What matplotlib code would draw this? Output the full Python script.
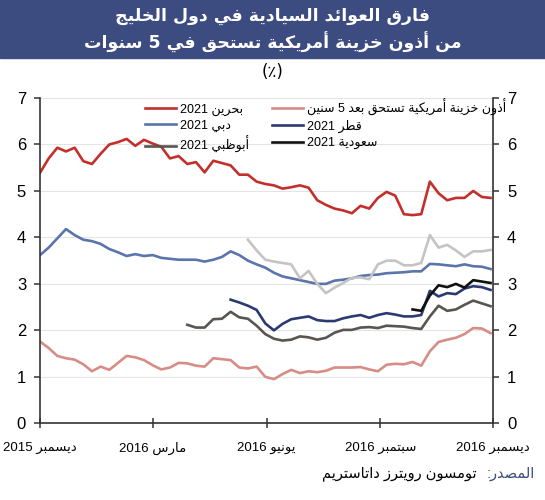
import numpy as np
import pandas as pd
import matplotlib
matplotlib.use("Agg")
from matplotlib import pyplot as plt
from matplotlib.patches import Rectangle

plt.rcParams['font.family'] = ['Liberation Sans', 'DejaVu Sans']

#------------------------------------------------------------------------------
# minimal arabic shaping (matplotlib has no text shaping / bidi)
#------------------------------------------------------------------------------
_letters = [(0x621, 1), (0x622, 2), (0x623, 2), (0x624, 2), (0x625, 2), (0x626, 4),
            (0x627, 2), (0x628, 4), (0x629, 2), (0x62A, 4), (0x62B, 4), (0x62C, 4),
            (0x62D, 4), (0x62E, 4), (0x62F, 2), (0x630, 2), (0x631, 2), (0x632, 2),
            (0x633, 4), (0x634, 4), (0x635, 4), (0x636, 4), (0x637, 4), (0x638, 4),
            (0x639, 4), (0x63A, 4), (0x641, 4), (0x642, 4), (0x643, 4), (0x644, 4),
            (0x645, 4), (0x646, 4), (0x647, 4), (0x648, 2), (0x649, 2), (0x64A, 4)]
FORMS = {}
_code = 0xFE80
for c, n in _letters:
    FORMS[chr(c)] = [_code + k for k in range(n)]
    _code += n


def shape_word(w):
    out = []
    for i, c in enumerate(w):
        if c not in FORMS:
            out.append(c)
            continue
        f = FORMS[c]
        prev = w[i-1] if i > 0 else ''
        nxt = w[i+1] if i+1 < len(w) else ''
        jp = prev in FORMS and len(FORMS[prev]) == 4
        jn = len(f) == 4 and nxt in FORMS and len(FORMS[nxt]) > 1
        if jp and jn:
            out.append(chr(f[3]))
        elif jn:
            out.append(chr(f[2]))
        elif jp and len(f) > 1:
            out.append(chr(f[1]))
        else:
            out.append(chr(f[0]))
    return ''.join(out)


def ar(text):
    words = []
    for w in text.split(' '):
        if any(ch in FORMS for ch in w):
            words.append(shape_word(w)[::-1])
        else:
            words.append(w)
    return ' '.join(words[::-1])

#------------------------------------------------------------------------------
# data (weekly)
#------------------------------------------------------------------------------
dates = pd.date_range('2015-12-01', periods=53, freq='7D')

bahrain = [5.39, 5.70, 5.93, 5.85, 5.93, 5.64, 5.58, 5.80, 6.00, 6.05, 6.12, 5.97, 6.10, 6.02,
           5.95, 5.70, 5.75, 5.58, 5.62, 5.40, 5.65, 5.60, 5.55, 5.35, 5.35, 5.20, 5.15, 5.12,
           5.05, 5.08, 5.12, 5.07, 4.80, 4.70, 4.62, 4.58, 4.52, 4.68, 4.62, 4.85, 4.98, 4.90,
           4.50, 4.48, 4.50, 5.20, 4.95, 4.80, 4.85, 4.85, 5.00, 4.87, 4.85]

dubai = [3.62, 3.78, 3.98, 4.18, 4.05, 3.95, 3.92, 3.86, 3.75, 3.68, 3.60, 3.64, 3.60, 3.62,
         3.56, 3.54, 3.52, 3.52, 3.52, 3.48, 3.52, 3.58, 3.70, 3.62, 3.50, 3.42, 3.35, 3.24,
         3.16, 3.12, 3.08, 3.04, 3.00, 3.00, 3.07, 3.09, 3.12, 3.17, 3.19, 3.20, 3.23, 3.24,
         3.25, 3.27, 3.27, 3.43, 3.42, 3.40, 3.38, 3.42, 3.38, 3.37, 3.32]

ust = [1.76, 1.62, 1.45, 1.40, 1.37, 1.27, 1.12, 1.22, 1.15, 1.30, 1.45, 1.42, 1.36, 1.25,
       1.16, 1.20, 1.30, 1.29, 1.24, 1.22, 1.40, 1.38, 1.36, 1.20, 1.18, 1.22, 1.00, 0.95,
       1.06, 1.15, 1.08, 1.12, 1.10, 1.13, 1.20, 1.20, 1.20, 1.21, 1.16, 1.12, 1.26, 1.28,
       1.27, 1.32, 1.24, 1.55, 1.75, 1.80, 1.84, 1.92, 2.05, 2.04, 1.94]

other_start = 24
other = [3.95, 3.72, 3.52, 3.48, 3.45, 3.42, 3.12, 3.28, 3.00, 2.80, 2.92, 3.02, 3.13, 3.14,
         3.10, 3.42, 3.50, 3.50, 3.40, 3.40, 3.45, 4.05, 3.78, 3.84, 3.72, 3.58, 3.70, 3.70, 3.73]

qatar_start = 22
qatar = [2.66, 2.60, 2.53, 2.44, 2.15, 2.00, 2.14, 2.24, 2.27, 2.30, 2.22, 2.20, 2.20, 2.26,
         2.30, 2.33, 2.27, 2.33, 2.37, 2.34, 2.30, 2.30, 2.33, 2.85, 2.73, 2.80, 2.78, 2.90,
         2.95, 2.93, 2.87]

abudhabi_start = 17
abudhabi = [2.12, 2.06, 2.06, 2.24, 2.25, 2.40, 2.28, 2.25, 2.10, 1.92, 1.82, 1.78, 1.80,
            1.87, 1.85, 1.80, 1.84, 1.95, 2.01, 2.01, 2.06, 2.07, 2.05, 2.10, 2.09, 2.08,
            2.05, 2.03, 2.30, 2.53, 2.42, 2.45, 2.55, 2.64, 2.58, 2.52]

saudi_start = 43
saudi = [2.45, 2.42, 2.75, 2.97, 2.93, 3.00, 2.92, 3.08, 3.05, 3.02]

labels = ['بحرين 2021', 'دبي 2021', 'أبوظبي 2021',
          'أذون خزينة أمريكية تستحق بعد 5 سنين', 'قطر 2021', 'سعودية 2021']

tick_dates = pd.to_datetime(['2015-12-01', '2016-03-01', '2016-06-01', '2016-09-01', '2016-12-01'])
tick_labels = ['ديسمبر 2015', 'مارس 2016', 'يونيو 2016', 'سبتمبر 2016', 'ديسمبر 2016']

title1 = 'فارق العوائد السيادية في دول الخليج'
title2 = 'من أذون خزينة أمريكية تستحق في 5 سنوات'
source1 = 'المصدر:'
source2 = 'تومسون رويترز داتاستريم'

#------------------------------------------------------------------------------
# plot
#------------------------------------------------------------------------------
navy = '#3c4b80'
lw = 1.9

fig = plt.figure(figsize=(5.45, 5.0), dpi=100)

fig.patches.append(Rectangle((0, 0.885), 1, 0.115, transform=fig.transFigure,
                             color=navy, zorder=0))
fig.text(0.5, 0.9686, ar(title1), ha='center', va='center', color='white',
         fontsize=12.5, fontweight='bold', family=['DejaVu Sans'])
fig.text(0.5, 0.916, ar(title2), ha='center', va='center', color='white',
         fontsize=12.5, fontweight='bold', family=['DejaVu Sans'])
fig.text(0.5, 0.856, '(٪)', ha='center', va='center', fontsize=12, family=['DejaVu Sans'])

ax = fig.add_axes([0.0734, 0.1534, 0.8312, 0.6506])

l_bh, = ax.plot(dates, bahrain, color='#c3302c', lw=lw, label=ar(labels[0]))
l_db, = ax.plot(dates, dubai, color='#5b74ac', lw=lw, label=ar(labels[1]))
ax.plot(dates[other_start:other_start+len(other)], other, color='#c4c4c4', lw=lw)
l_ad, = ax.plot(dates[abudhabi_start:abudhabi_start+len(abudhabi)], abudhabi,
                color='#595552', lw=lw, label=ar(labels[2]))
l_qt, = ax.plot(dates[qatar_start:qatar_start+len(qatar)], qatar, color='#2b3a70',
                lw=lw, label=ar(labels[4]))
l_sa, = ax.plot(dates[saudi_start:saudi_start+len(saudi)], saudi, color='#111111',
                lw=lw, label=ar(labels[5]))
l_us, = ax.plot(dates, ust, color='#d88c86', lw=lw, label=ar(labels[3]))

ax.set_xlim(tick_dates[0], tick_dates[-1])
ax.set_ylim(0, 7)
ax.set_yticks(range(8))
ax.set_xticks(tick_dates)
ax.set_xticklabels([ar(t) for t in tick_labels])

ax.grid(axis='y', color='#e4e4e4', linewidth=0.8)
ax.set_axisbelow(True)
ax.spines['top'].set_visible(False)
for s in ['left', 'right', 'bottom']:
    ax.spines[s].set_color('#333333')
    ax.spines[s].set_linewidth(1.2)

ax.tick_params(axis='y', which='both', left=True, right=True, labelleft=True,
               labelright=True, length=4, width=1.1, color='#333333', labelsize=12, pad=6)
ax.tick_params(axis='x', direction='inout', length=7, width=1.1, color='#333333',
               labelsize=9.5, pad=10)

ax.legend(handles=[l_bh, l_db, l_ad, l_us, l_qt, l_sa], ncol=2, frameon=False,
          loc='upper left', bbox_to_anchor=(0.232, 0.998), fontsize=9,
          handlelength=2.5, handletextpad=0.3, columnspacing=1.8, labelspacing=0.32,
          borderpad=0, borderaxespad=0)

fig.text(0.9817, 0.052, ar(source1), ha='right', va='center', color=navy, fontsize=10.5)
fig.text(0.875, 0.052, ar(source2), ha='right', va='center', color='black', fontsize=10.5)

fig.savefig('out.png', dpi=100)
